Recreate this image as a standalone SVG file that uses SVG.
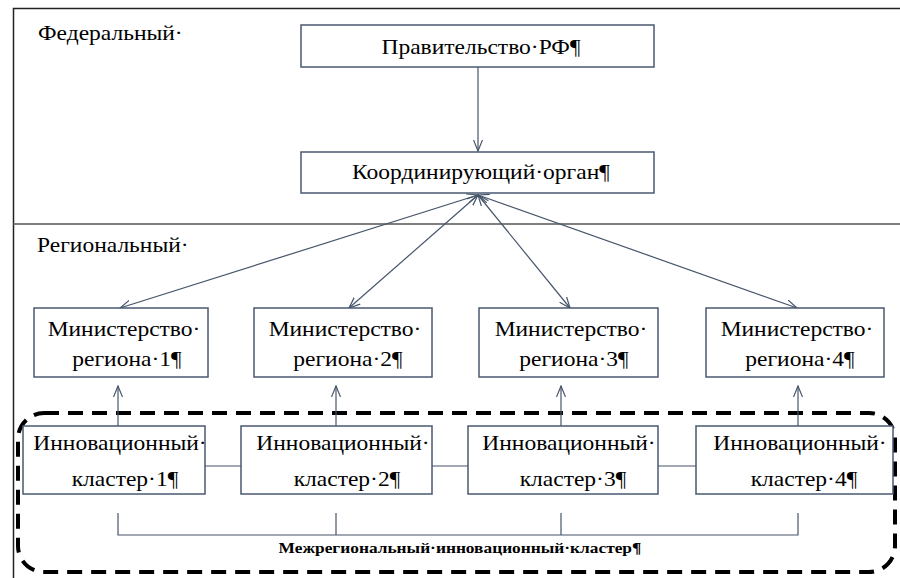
<svg xmlns="http://www.w3.org/2000/svg" width="900" height="578" viewBox="0 0 900 578">
<defs>
<marker id="ah" viewBox="0 0 12 10" refX="11" refY="5" markerWidth="12" markerHeight="10" markerUnits="userSpaceOnUse" orient="auto-start-reverse">
<path d="M0,0.5 L11,5 L0,9.5" fill="none" stroke="#46556a" stroke-width="1.2"/>
</marker>
</defs>
<style>
.box{fill:#fff;stroke:#4a5a70;stroke-width:1.5}
.c{stroke:#46556a;stroke-width:1.2;fill:none}
.frame{stroke:#222;stroke-width:1.5;fill:none}
.sep{stroke:#555;stroke-width:1.5}
.dash{fill:none;stroke:#000;stroke-width:4;stroke-dasharray:15 9}
</style>
<rect width="900" height="578" fill="#fff"/>
<g id="frame">
<path class="frame" d="M13.5,578 V8.5 H900"/>
<line class="sep" x1="13" y1="224" x2="900" y2="224"/>
<text transform="translate(38,40) scale(1.12,1)" font-family="Liberation Serif" font-size="21">Федеральный·</text>
<text transform="translate(37,252) scale(1.12,1)" font-family="Liberation Serif" font-size="21">Региональный·</text>
</g>
<g id="cluster-frame">
<rect class="dash" x="18" y="413" width="877" height="159" rx="26" ry="26"/>
<text transform="translate(460,553) scale(1.24,1)" text-anchor="middle" font-family="Liberation Serif" font-size="14" font-weight="bold">Межрегиональный·инновационный·кластер¶</text>
</g>
<g id="connectors">
<line class="c" x1="478" y1="67" x2="478" y2="151" marker-end="url(#ah)"/>
<line class="c" x1="478" y1="195" x2="120" y2="308" marker-start="url(#ah)" marker-end="url(#ah)"/>
<line class="c" x1="478" y1="195" x2="349" y2="308" marker-start="url(#ah)" marker-end="url(#ah)"/>
<line class="c" x1="478" y1="195" x2="570" y2="308" marker-start="url(#ah)" marker-end="url(#ah)"/>
<line class="c" x1="478" y1="195" x2="797" y2="308" marker-start="url(#ah)" marker-end="url(#ah)"/>
<line class="c" x1="118" y1="426" x2="118" y2="386" marker-end="url(#ah)"/>
<line class="c" x1="336" y1="426" x2="336" y2="386" marker-end="url(#ah)"/>
<line class="c" x1="561" y1="426" x2="561" y2="386" marker-end="url(#ah)"/>
<line class="c" x1="798" y1="426" x2="798" y2="386" marker-end="url(#ah)"/>
<line class="c" x1="205" y1="466" x2="241" y2="466"/>
<line class="c" x1="432" y1="466" x2="468" y2="466"/>
<line class="c" x1="658" y1="466" x2="696" y2="466"/>
<path class="c" d="M118,513 V535 H798 V513 M336,513 V535 M561,513 V535"/>
</g>
<g id="gov">
<rect class="box" x="301" y="25" width="353" height="42"/>
<text transform="translate(481,54) scale(1.12,1)" text-anchor="middle" font-family="Liberation Serif" font-size="21">Правительство·РФ¶</text>
</g>
<g id="coord">
<rect class="box" x="301" y="152" width="353" height="41"/>
<text transform="translate(481,179) scale(1.12,1)" text-anchor="middle" font-family="Liberation Serif" font-size="21">Координирующий·орган¶</text>
</g>
<g id="min1">
<rect class="box" x="34" y="308" width="174" height="69"/>
<text transform="translate(124,336) scale(1.12,1)" text-anchor="middle" font-family="Liberation Serif" font-size="21">Министерство·</text>
<text transform="translate(127,366) scale(1.12,1)" text-anchor="middle" font-family="Liberation Serif" font-size="21">региона·1¶</text>
</g>
<g id="min2">
<rect class="box" x="254" y="308" width="178" height="69"/>
<text transform="translate(345,336) scale(1.12,1)" text-anchor="middle" font-family="Liberation Serif" font-size="21">Министерство·</text>
<text transform="translate(348,366) scale(1.12,1)" text-anchor="middle" font-family="Liberation Serif" font-size="21">региона·2¶</text>
</g>
<g id="min3">
<rect class="box" x="479" y="308" width="179" height="69"/>
<text transform="translate(571,336) scale(1.12,1)" text-anchor="middle" font-family="Liberation Serif" font-size="21">Министерство·</text>
<text transform="translate(574,366) scale(1.12,1)" text-anchor="middle" font-family="Liberation Serif" font-size="21">региона·3¶</text>
</g>
<g id="min4">
<rect class="box" x="706" y="308" width="178" height="69"/>
<text transform="translate(797,336) scale(1.12,1)" text-anchor="middle" font-family="Liberation Serif" font-size="21">Министерство·</text>
<text transform="translate(800,366) scale(1.12,1)" text-anchor="middle" font-family="Liberation Serif" font-size="21">региона·4¶</text>
</g>
<g id="cl1">
<rect class="box" x="23" y="426" width="182" height="68"/>
<text transform="translate(120,450) scale(1.12,1)" text-anchor="middle" font-family="Liberation Serif" font-size="21">Инновационный·</text>
<text transform="translate(125,486) scale(1.12,1)" text-anchor="middle" font-family="Liberation Serif" font-size="21">кластер·1¶</text>
</g>
<g id="cl2">
<rect class="box" x="241" y="426" width="191" height="68"/>
<text transform="translate(343,450) scale(1.12,1)" text-anchor="middle" font-family="Liberation Serif" font-size="21">Инновационный·</text>
<text transform="translate(347,486) scale(1.12,1)" text-anchor="middle" font-family="Liberation Serif" font-size="21">кластер·2¶</text>
</g>
<g id="cl3">
<rect class="box" x="468" y="426" width="190" height="68"/>
<text transform="translate(569,450) scale(1.12,1)" text-anchor="middle" font-family="Liberation Serif" font-size="21">Инновационный·</text>
<text transform="translate(573,486) scale(1.12,1)" text-anchor="middle" font-family="Liberation Serif" font-size="21">кластер·3¶</text>
</g>
<g id="cl4">
<rect class="box" x="696" y="426" width="197" height="68"/>
<text transform="translate(800,450) scale(1.12,1)" text-anchor="middle" font-family="Liberation Serif" font-size="21">Инновационный·</text>
<text transform="translate(804,486) scale(1.12,1)" text-anchor="middle" font-family="Liberation Serif" font-size="21">кластер·4¶</text>
</g>
</svg>
